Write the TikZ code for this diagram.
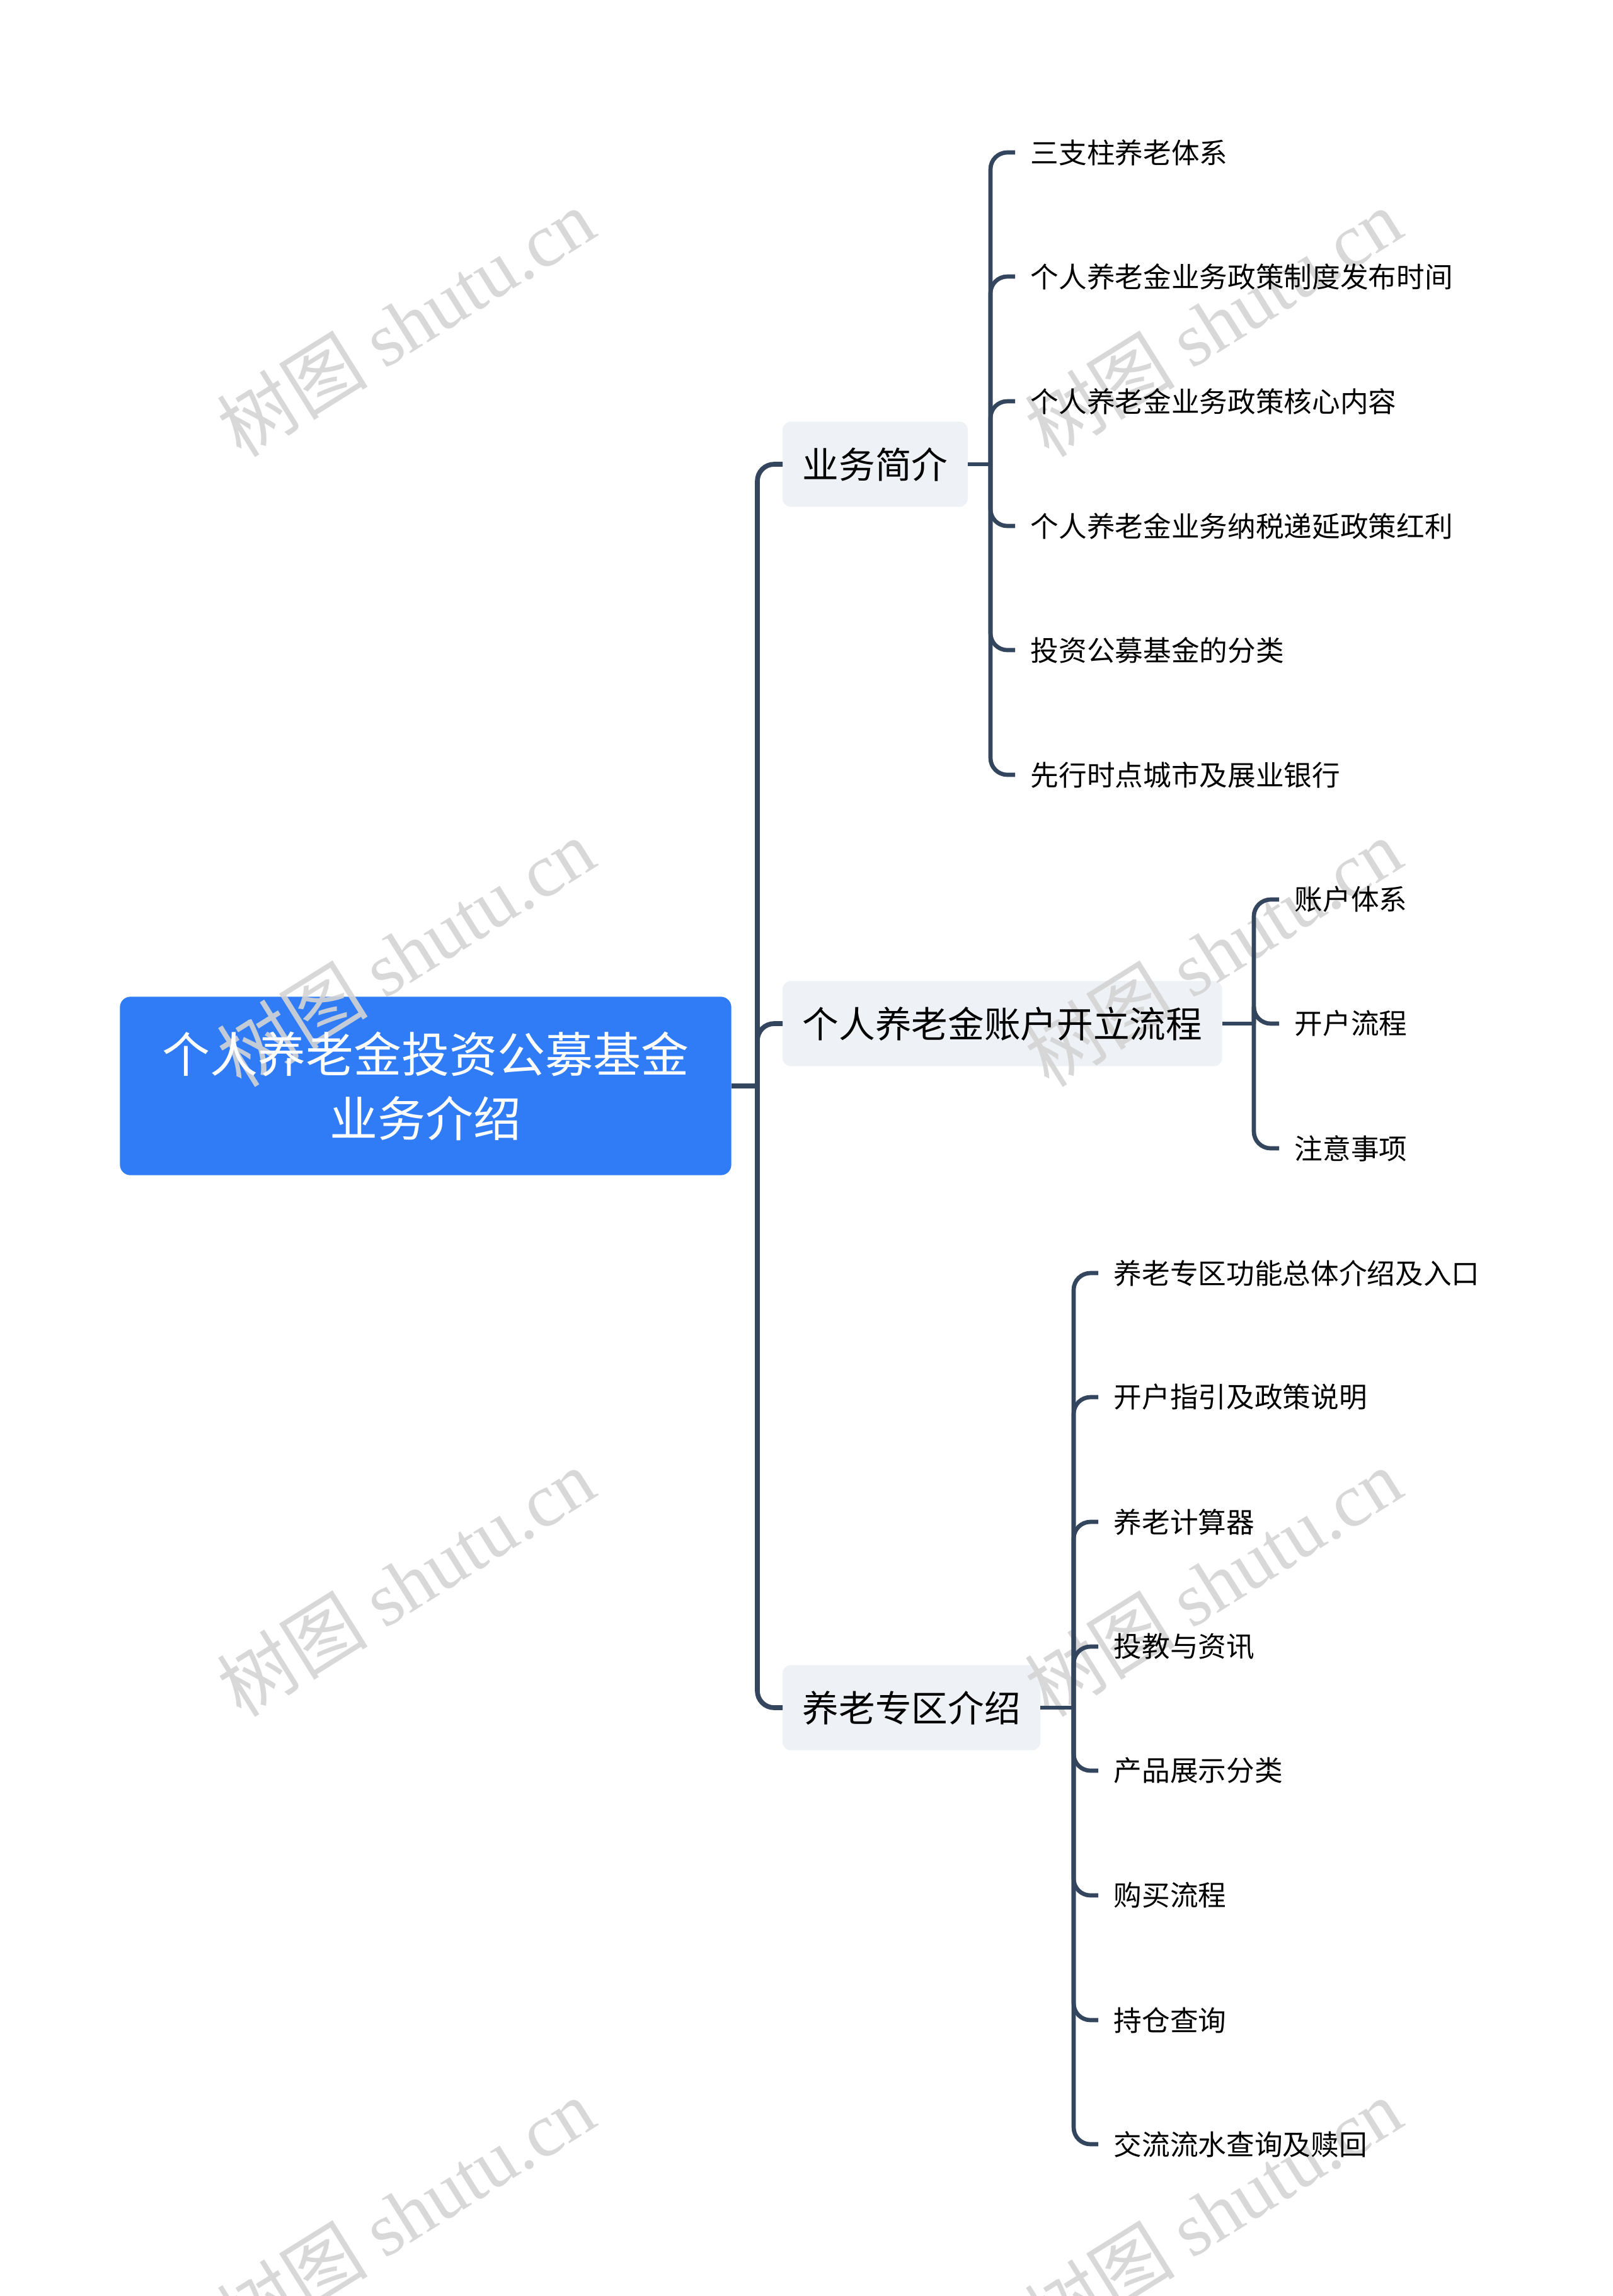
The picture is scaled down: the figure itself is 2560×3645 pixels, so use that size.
\documentclass[tikz,border=0pt]{standalone}
\usepackage{fontspec}
\setmainfont{Noto Sans CJK SC}
\newfontfamily\wmserif{Liberation Serif}
\newfontfamily\wmcjk{Noto Sans CJK SC}
\definecolor{rootblue}{HTML}{2F7CF6}
\definecolor{boxgray}{HTML}{EEF1F5}
\definecolor{linecol}{HTML}{34465D}
\definecolor{wmgray}{HTML}{D4D4D4}
\pgfdeclarelayer{bglayer}
\pgfdeclarelayer{wmlayer}
\pgfsetlayers{bglayer,wmlayer,main}
\tikzset{
  rootbox/.style={text=white, align=center,
    minimum width=290.7pt, minimum height=84.6pt, inner sep=0pt,
    font=\fontsize{22.8pt}{30.6pt}\selectfont},
  lvlone/.style={text=black, anchor=west,
    minimum height=40.2pt, inner xsep=9.3pt, inner ysep=0pt,
    font=\fontsize{17.3pt}{20pt}\selectfont},
  lvltwo/.style={text=black, anchor=west, inner xsep=7.2pt, inner ysep=3pt,
    font=\fontsize{13.4pt}{16pt}\selectfont},
  connA/.style={draw=linecol, line width=2.3pt, rounded corners=8pt},
  connB/.style={draw=linecol, line width=2pt, rounded corners=8pt},
  wm/.style={text=wmgray, opacity=0.9, rotate=32, inner sep=0pt,
    font=\fontsize{36pt}{40pt}\selectfont}
}
\begin{document}
\begin{tikzpicture}[x=0.3pt,y=-0.3pt]
\useasboundingbox (0,0) rectangle (2560,3645);

% root
\node[rootbox] (root) at (675.5,1724) {个人养老金投资公募基金\\业务介绍};
\coordinate (t1) at (1202,1724);

% level 1
\node[lvlone] (b1) at (1242,737) {业务简介};
\node[lvlone] (b2) at (1242,1625) {个人养老金账户开立流程};
\node[lvlone] (b3) at (1242,2711) {养老专区介绍};

\begin{pgfonlayer}{bglayer}
\fill[white] (0,0) rectangle (2560,3645);
\fill[rootblue, rounded corners=5pt] (root.south west) rectangle (root.north east);
\foreach \b in {b1,b2,b3}
  \fill[boxgray, rounded corners=4pt] (\b.south west) rectangle (\b.north east);
\end{pgfonlayer}

\draw[connA] (root.east) -- (t1);
\draw[connA] (t1) |- (b1.west);
\draw[connA] (t1) |- (b2.west);
\draw[connA] (t1) |- (b3.west);

% level 2 under b1
\coordinate (s1) at (1572,737);
\node[lvltwo] (c11) at (1611,242) {三支柱养老体系};
\node[lvltwo] (c12) at (1611,439) {个人养老金业务政策制度发布时间};
\node[lvltwo] (c13) at (1611,637) {个人养老金业务政策核心内容};
\node[lvltwo] (c14) at (1611,835) {个人养老金业务纳税递延政策红利};
\node[lvltwo] (c15) at (1611,1032) {投资公募基金的分类};
\node[lvltwo] (c16) at (1611,1230) {先行时点城市及展业银行};
\draw[connB] (b1.east) -- (s1);
\foreach \c in {c11,c12,c13,c14,c15,c16} \draw[connB] (s1) |- (\c.west);

% level 2 under b2
\coordinate (s2) at (1990,1625);
\node[lvltwo] (c21) at (2030,1428) {账户体系};
\node[lvltwo] (c22) at (2030,1625) {开户流程};
\node[lvltwo] (c23) at (2030,1823) {注意事项};
\draw[connB] (b2.east) -- (s2);
\foreach \c in {c21,c22,c23} \draw[connB] (s2) |- (\c.west);

% level 2 under b3
\coordinate (s3) at (1704,2711);
\node[lvltwo] (c31) at (1743,2021) {养老专区功能总体介绍及入口};
\node[lvltwo] (c32) at (1743,2218) {开户指引及政策说明};
\node[lvltwo] (c33) at (1743,2416) {养老计算器};
\node[lvltwo] (c34) at (1743,2614) {投教与资讯};
\node[lvltwo] (c35) at (1743,2811) {产品展示分类};
\node[lvltwo] (c36) at (1743,3009) {购买流程};
\node[lvltwo] (c37) at (1743,3207) {持仓查询};
\node[lvltwo] (c38) at (1743,3404) {交流流水查询及赎回};
\draw[connB] (b3.east) -- (s3);
\foreach \c in {c31,c32,c33,c34,c35,c36,c37,c38} \draw[connB] (s3) |- (\c.west);

% watermarks (above box fills, below texts and lines)
\begin{pgfonlayer}{wmlayer}
\foreach \wy [count=\i] in {512,1512,2512,3512} {
  \node[wm] (wl\i) at (644,\wy) {{\wmcjk 树图} {\wmserif shutu.cn}};
  \node[wm] (wr\i) at (1925,\wy) {{\wmcjk 树图} {\wmserif shutu.cn}};
}
\end{pgfonlayer}
\end{tikzpicture}
\end{document}
